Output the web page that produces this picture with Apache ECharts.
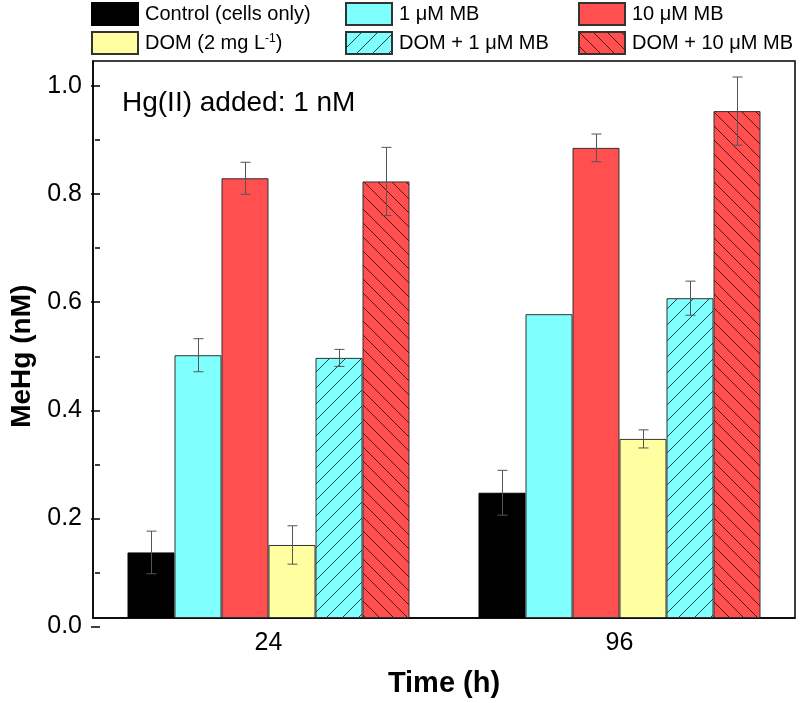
<!DOCTYPE html>
<html><head><meta charset="utf-8">
<script src="https://cdn.jsdelivr.net/npm/echarts@6/dist/echarts.min.js"></script>
<style>html,body{margin:0;padding:0;background:#fff}#c{width:800px;height:703px}</style>
</head><body><div id="c"></div>
<script>
// ---------- data ----------
const categories = ['24', '96'];
const seriesNames = ['Control (cells only)', '1 μM MB', '10 μM MB', 'DOM (2 mg L-1)', 'DOM + 1 μM MB', 'DOM + 10 μM MB'];
const control   = [0.123, 0.235];
const mb1       = [0.493, 0.570];
const mb10      = [0.825, 0.882];
const dom       = [0.137, 0.336];
const domMb1    = [0.488, 0.600];
const domMb10   = [0.819, 0.951];
const controlErr = [0.040, 0.042];
const mb1Err     = [0.031, null];
const mb10Err    = [0.030, 0.026];
const domErr     = [0.036, 0.017];
const domMb1Err  = [0.016, 0.032];
const domMb10Err = [0.064, 0.064];
const yTicks = [0, 0.2, 0.4, 0.6, 0.8, 1.0];

// ---------- style ----------
const FONT = '"Liberation Sans", Arial, sans-serif';
const BAR_W = 47;
function hatch(bg, dir, step, lineColor) {
  const c = document.createElement('canvas');
  c.width = step; c.height = step;
  const g = c.getContext('2d');
  g.fillStyle = bg; g.fillRect(0, 0, step, step);
  g.strokeStyle = lineColor; g.lineWidth = 1;
  g.beginPath();
  if (dir === '/') {
    g.moveTo(-2, step + 2); g.lineTo(step + 2, -2);
    g.moveTo(-2, 2); g.lineTo(2, -2);
    g.moveTo(step - 2, step + 2); g.lineTo(step + 2, step - 2);
  } else {
    g.moveTo(-2, -2); g.lineTo(step + 2, step + 2);
    g.moveTo(step - 2, -2); g.lineTo(step + 2, 2);
    g.moveTo(-2, step - 2); g.lineTo(2, step + 2);
  }
  g.stroke();
  return c;
}
const fills = [
  '#000000',
  '#80FFFF',
  '#FF4F4F',
  '#FFFFA2',
  { image: hatch('#80FFFF', '/', 16, 'rgba(0,40,40,0.85)'), repeat: 'repeat' },
  { image: hatch('#FF4F4F', '\\', 14, 'rgba(60,0,0,0.85)'), repeat: 'repeat' }
];
const values = [control, mb1, mb10, dom, domMb1, domMb10];
const errs = [controlErr, mb1Err, mb10Err, domErr, domMb1Err, domMb10Err];

const barSeries = seriesNames.map((name, k) => ({
  name, type: 'bar', xAxisIndex: 0, yAxisIndex: 0,
  barWidth: BAR_W, barGap: '0%',
  data: values[k],
  itemStyle: { color: fills[k], borderColor: k === 0 ? '#000' : '#333', borderWidth: 1 },
  emphasis: { disabled: true },
  z: 2
}));

const errData = [];
errs.forEach((arr, k) => arr.forEach((e, i) => {
  if (e != null) errData.push([i, values[k][i], e, k]);
}));

const errSeries = {
  type: 'custom', xAxisIndex: 0, yAxisIndex: 0, z: 5, clip: false,
  data: errData, silent: true,
  renderItem(params, api) {
    const cat = api.value(0), v = api.value(1), e = api.value(2), k = api.value(3);
    const c = api.coord([cat, v]);
    const x = Math.round(c[0] + (k - 2.5) * BAR_W) + 0.5;
    const top = api.coord([cat, v + e])[1];
    const bot = api.coord([cat, v - e])[1];
    const cap = 5;
    const st = { stroke: '#555', lineWidth: 1 };
    return { type: 'group', children: [
      { type: 'line', shape: { x1: x, y1: top, x2: x, y2: bot }, style: st },
      { type: 'line', shape: { x1: x - cap, y1: top, x2: x + cap, y2: top }, style: st },
      { type: 'line', shape: { x1: x - cap, y1: bot, x2: x + cap, y2: bot }, style: st }
    ]};
  }
};

const legendBase = {
  orient: 'vertical', top: 2, padding: 0, itemWidth: 46, itemHeight: 22, itemGap: 5,
  icon: 'rect', selectedMode: false,
  textStyle: { fontFamily: FONT, fontSize: 20, color: '#000', padding: [0, 0, 0, 2],
    rich: { sup: { fontFamily: FONT, fontSize: 12, verticalAlign: 'top', color: '#000' } } },
  formatter: n => n === 'DOM (2 mg L-1)' ? 'DOM (2 mg L{sup|-1})' : n
};

const option = {
  animation: false,
  backgroundColor: '#fff',
  title: {
    text: 'Hg(II) added: 1 nM', left: 117, top: 84,
    textStyle: { fontFamily: FONT, fontSize: 28, fontWeight: 'normal', color: '#000' }
  },
  legend: [
    Object.assign({}, legendBase, { left: 91, data: [seriesNames[0], seriesNames[3]] }),
    Object.assign({}, legendBase, { left: 345, data: [seriesNames[1], seriesNames[4]] }),
    Object.assign({}, legendBase, { left: 578, data: [seriesNames[2], seriesNames[5]] })
  ],
  grid: [
    { left: 93, right: 5, top: 61, bottom: 76.5, show: true, borderColor: '#000', borderWidth: 1.5, containLabel: false },
    { left: 93, right: 5, top: 86, bottom: 76.5, show: false, containLabel: false }
  ],
  xAxis: [
    { type: 'category', gridIndex: 0, data: categories, position: 'bottom',
      axisLine: { lineStyle: { color: '#000', width: 1.5 } },
      axisTick: { alignWithLabel: true, length: 9, lineStyle: { color: '#000', width: 1.5 } },
      axisLabel: { fontFamily: FONT, fontSize: 25, color: '#000', margin: 13 },
      name: 'Time (h)', nameLocation: 'middle', nameGap: 51,
      nameTextStyle: { fontFamily: FONT, fontSize: 29, fontWeight: 'bold', color: '#000' } },
    { type: 'category', gridIndex: 0, data: categories, position: 'bottom',
      axisLine: { show: false },
      axisTick: { alignWithLabel: false, length: 5, lineStyle: { color: '#000', width: 1.5 } },
      axisLabel: { show: false } },
    { type: 'value', gridIndex: 1, show: false }
  ],
  yAxis: [
    { type: 'value', gridIndex: 0, min: 0, max: 1.045,
      axisLine: { show: true, lineStyle: { color: '#000', width: 1.5 } },
      axisTick: { show: false }, axisLabel: { show: false }, splitLine: { show: false } },
    { type: 'value', gridIndex: 1, min: yTicks[0], max: yTicks[yTicks.length - 1], interval: 0.2,
      axisLine: { show: false },
      axisTick: { show: true, length: 9, lineStyle: { color: '#000', width: 1.5 } },
      minorTick: { show: true, splitNumber: 2, length: 5, lineStyle: { color: '#000', width: 1.5 } },
      axisLabel: { fontFamily: FONT, fontSize: 25, color: '#000', margin: 18, formatter: v => v.toFixed(1) },
      splitLine: { show: false },
      name: 'MeHg (nM)', nameLocation: 'middle', nameGap: 64,
      nameTextStyle: { fontFamily: FONT, fontSize: 28, fontWeight: 'bold', color: '#000' } }
  ],
  series: barSeries.concat([errSeries])
};
const chart = echarts.init(document.getElementById('c'), null, { renderer: 'canvas' });
chart.setOption(option);
</script></body></html>
